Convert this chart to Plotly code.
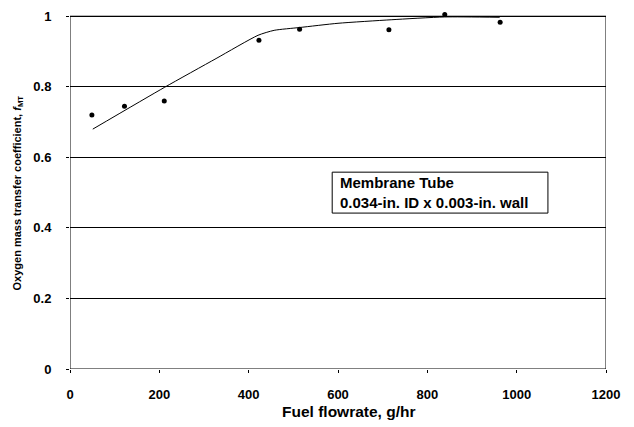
import plotly.graph_objects as go

# Measured data points
flow_pts = [49, 122, 211, 423, 514, 714, 839, 963]
fmt_pts = [0.72, 0.745, 0.76, 0.932, 0.963, 0.962, 1.005, 0.983]

# Fitted curve
flow_fit = [51, 211, 327, 421, 457, 514, 600, 719, 839, 962]
fmt_fit = [0.68, 0.798, 0.88, 0.946, 0.96, 0.968, 0.98, 0.99, 0.998, 0.997]

x_ticks = [0, 200, 400, 600, 800, 1000, 1200]
y_ticks = [0, 0.2, 0.4, 0.6, 0.8, 1]
y_tick_text = ["0", "0.2", "0.4", "0.6", "0.8", "1"]

font_family = "Liberation Sans, Arial, sans-serif"

fig = go.Figure()
fig.add_trace(go.Scatter(
    x=flow_fit, y=fmt_fit, mode="lines",
    line=dict(color="black", width=1, shape="spline", smoothing=0.6),
    showlegend=False, hoverinfo="skip", cliponaxis=False))
fig.add_trace(go.Scatter(
    x=flow_pts, y=fmt_pts, mode="markers",
    marker=dict(color="black", size=5),
    showlegend=False, cliponaxis=False))

fig.update_layout(
    width=634, height=427, autosize=False,
    margin=dict(l=70, r=28, t=12, b=58),
    paper_bgcolor="white", plot_bgcolor="white",
    font=dict(family=font_family, size=13, color="black"),
    xaxis=dict(range=[0, 1200], tickvals=x_ticks, showgrid=False, zeroline=False,
               showline=False,
               ticks="outside", ticklen=3, tickcolor="black", automargin=False,
               tickfont=dict(size=13, family=font_family, weight="bold"),
               ticklabelstandoff=10),
    yaxis=dict(range=[0, 1.012], tickvals=y_ticks, ticktext=y_tick_text,
               showgrid=True, gridcolor="black", gridwidth=1, zeroline=False,
               showline=False,
               ticks="outside", ticklen=3, tickcolor="black", automargin=False,
               tickfont=dict(size=13, family=font_family, weight="bold"),
               ticklabelstandoff=12),
    shapes=[
        dict(type="rect", xref="x", yref="y", x0=0, x1=1200, y0=0, y1=1,
             line=dict(color="black", width=1), layer="above"),
        dict(type="rect", xref="x", yref="y", x0=587, x1=1070, y0=0.442, y1=0.558,
             line=dict(color="black", width=1), fillcolor="white", layer="above"),
    ],
    annotations=[
        dict(text="<b>Fuel flowrate, g/hr</b>", xref="paper", yref="paper",
             x=0.5, xshift=10, y=0, yshift=-42, showarrow=False,
             xanchor="center", yanchor="middle",
             font=dict(size=15.5, family=font_family)),
        dict(text="<b>Oxygen mass transfer coefficient, <i>f</i><sub>MT</sub></b>",
             xref="paper", yref="paper", x=0, xshift=-53, y=0.5, yshift=-3, textangle=-90,
             showarrow=False, xanchor="center", yanchor="middle",
             font=dict(size=11, family=font_family)),
        dict(text="<b>Membrane Tube<br>0.034-in. ID x 0.003-in. wall</b>",
             xref="x", yref="y", x=600, y=0.5, showarrow=False,
             xanchor="left", yanchor="middle", align="left",
             font=dict(size=15, family=font_family)),
    ],
)

fig.write_html(
    "out.html",
    config={"displayModeBar": False},
    post_script=("document.body.style.margin='0px';"
                 "document.body.style.overflow='hidden';"
                 "document.documentElement.style.overflow='hidden';"),
)
